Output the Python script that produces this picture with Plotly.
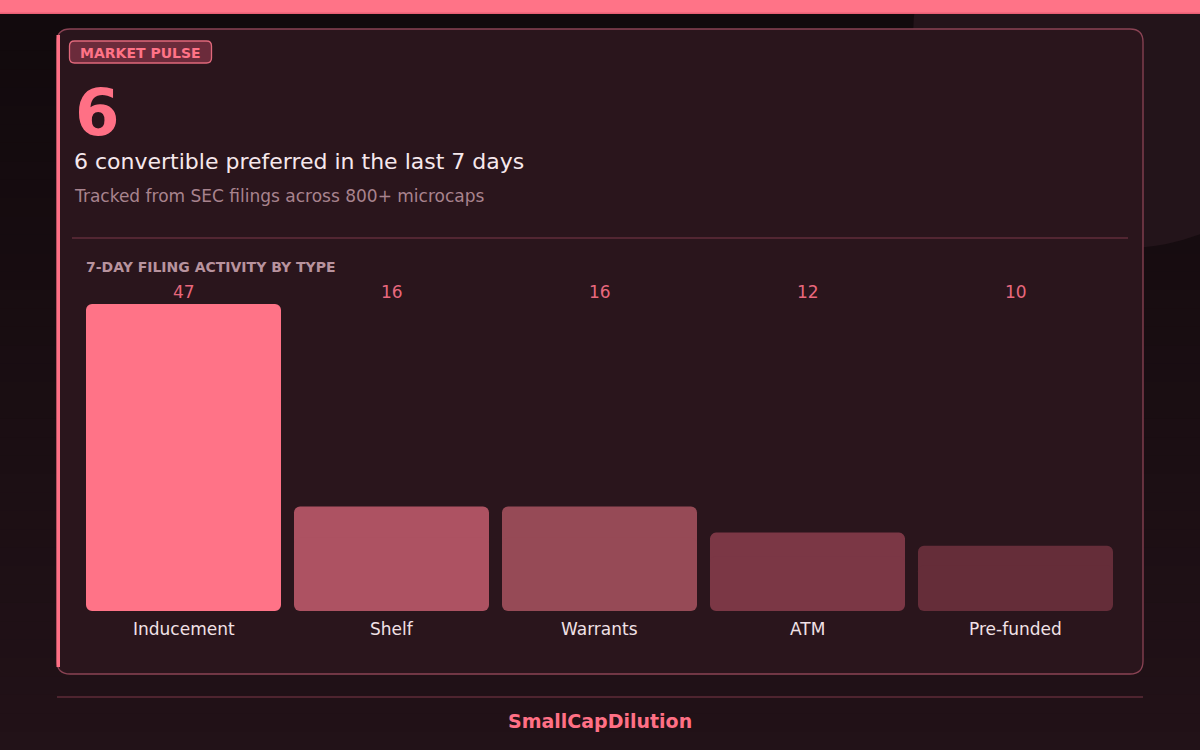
import numpy as np
import plotly.graph_objects as go

# 7-day filing activity by type
categories = ['Inducement', 'Shelf', 'Warrants', 'ATM', 'Pre-funded']
counts = [47, 16, 16, 12, 10]
bar_colors = ['#ff7387', '#ad5262', '#964a56', '#7b3745', '#652d39']

headline_count = 6
headline = '6 convertible preferred in the last 7 days'
subline = 'Tracked from SEC filings across 800+ microcaps'

W, H = 1200, 750
PINK = '#ff7085'
FONT = 'DejaVu Sans'

def py(px):
    # pixel from top -> paper y
    return 1 - px / H

def px_(x):
    return x / W

vals = np.array(counts, dtype=float)

fig = go.Figure()
# each bar drawn as two overlapping pieces so both ends get rounded corners
fig.add_trace(go.Bar(x=categories, y=vals * 0.7, base=vals * 0.3,
                     marker=dict(color=bar_colors, cornerradius=6, line=dict(width=0)),
                     hoverinfo='skip', showlegend=False))
fig.add_trace(go.Bar(x=categories, y=-vals * 0.7, base=vals * 0.7,
                     marker=dict(color=bar_colors, cornerradius=6, line=dict(width=0)),
                     hoverinfo='skip', showlegend=False))

shapes = []
# background vertical gradient
top_c = np.array([0x12, 0x0a, 0x0d])
bot_c = np.array([0x22, 0x12, 0x18])
n = 40
for i in range(n):
    t = i / (n - 1)
    c = (top_c + (bot_c - top_c) * t).astype(int)
    y0 = 14 + (H - 14) * i / n
    y1 = 14 + (H - 14) * (i + 1) / n + 1
    shapes.append(dict(type='rect', xref='paper', yref='paper', x0=0, x1=1,
                       y0=py(y1), y1=py(y0), line=dict(width=0),
                       fillcolor='rgb(%d,%d,%d)' % tuple(c), layer='below'))
# soft circle top right
shapes.append(dict(type='circle', xref='paper', yref='paper',
                   x0=px_(1125 - 212), x1=px_(1125 + 212),
                   y0=py(36 + 212), y1=py(36 - 212),
                   line=dict(width=0), fillcolor='#23141a', layer='below'))
# top accent bar
shapes.append(dict(type='rect', xref='paper', yref='paper', x0=0, x1=1,
                   y0=py(14), y1=1, line=dict(width=0), fillcolor='#e85f74', layer='below'))
shapes.append(dict(type='rect', xref='paper', yref='paper', x0=0, x1=1,
                   y0=py(12.5), y1=1, line=dict(width=0), fillcolor='#ff7387', layer='below'))

def rounded_rect(x0, y0, x1, y1, r):
    X = lambda v: px_(v)
    Y = lambda v: py(v)
    return ('M %f,%f L %f,%f Q %f,%f %f,%f L %f,%f Q %f,%f %f,%f '
            'L %f,%f Q %f,%f %f,%f L %f,%f Q %f,%f %f,%f Z') % (
        X(x0 + r), Y(y0), X(x1 - r), Y(y0), X(x1), Y(y0), X(x1), Y(y0 + r),
        X(x1), Y(y1 - r), X(x1), Y(y1), X(x1 - r), Y(y1),
        X(x0 + r), Y(y1), X(x0), Y(y1), X(x0), Y(y1 - r),
        X(x0), Y(y0 + r), X(x0), Y(y0), X(x0 + r), Y(y0))

# card
shapes.append(dict(type='path', xref='paper', yref='paper',
                   path=rounded_rect(57, 29, 1143, 674, 13),
                   fillcolor='#2a151c', line=dict(color='#8a4354', width=1.3), layer='below'))
# card left accent
shapes.append(dict(type='rect', xref='paper', yref='paper', x0=px_(56.5), x1=px_(60),
                   y0=py(667), y1=py(35), line=dict(width=0), fillcolor=PINK, layer='below'))
# chip
shapes.append(dict(type='path', xref='paper', yref='paper',
                   path=rounded_rect(69.5, 41, 211.5, 63, 5),
                   fillcolor='#6b2b3b', line=dict(color='#e0687b', width=1.3), layer='below'))
# divider in card
shapes.append(dict(type='line', xref='paper', yref='paper', x0=px_(72), x1=px_(1128),
                   y0=py(238), y1=py(238), line=dict(color='#602c3a', width=1.3), layer='below'))
# footer divider
shapes.append(dict(type='line', xref='paper', yref='paper', x0=px_(57), x1=px_(1143),
                   y0=py(697), y1=py(697), line=dict(color='#5e2b38', width=1.3), layer='below'))

ann = []
ann.append(dict(text='MARKET PULSE', x=px_(140.5), y=py(53), xref='paper', yref='paper',
                showarrow=False, xanchor='center', yanchor='middle',
                font=dict(family=FONT, size=14, color='#ff7387', weight='bold')))
ann.append(dict(text=str(headline_count), x=px_(73), y=py(113), xref='paper', yref='paper',
                showarrow=False, xanchor='left', yanchor='middle',
                font=dict(family=FONT, size=64, color=PINK, weight='bold')))
ann.append(dict(text=headline, x=px_(72), y=py(162), xref='paper', yref='paper',
                showarrow=False, xanchor='left', yanchor='middle',
                font=dict(family=FONT, size=22, color='#f6e8ec')))
ann.append(dict(text=subline, x=px_(72), y=py(196), xref='paper', yref='paper',
                showarrow=False, xanchor='left', yanchor='middle',
                font=dict(family=FONT, size=17, color='#a8838e')))
ann.append(dict(text='7-DAY FILING ACTIVITY BY TYPE', x=px_(84), y=py(267), xref='paper', yref='paper',
                showarrow=False, xanchor='left', yanchor='middle',
                font=dict(family=FONT, size=14, color='#b8939e', weight='bold')))
for c, v in zip(categories, counts):
    ann.append(dict(text=str(v), x=c, y=py(292), xref='x', yref='paper',
                    showarrow=False, xanchor='center', yanchor='middle',
                    font=dict(family=FONT, size=17, color='#e8687c')))
    ann.append(dict(text=c, x=c, y=py(629), xref='x', yref='paper',
                    showarrow=False, xanchor='center', yanchor='middle',
                    font=dict(family=FONT, size=17, color='#f1e1e6')))
ann.append(dict(text='SmallCapDilution', x=0.5, y=py(721), xref='paper', yref='paper',
                showarrow=False, xanchor='center', yanchor='middle',
                font=dict(family=FONT, size=19, color=PINK, weight='bold')))

fig.update_layout(
    width=W, height=H,
    margin=dict(l=0, r=0, t=0, b=0),
    paper_bgcolor='#1a0e12',
    plot_bgcolor='rgba(0,0,0,0)',
    barmode='overlay',
    bargap=13 / 208,
    shapes=shapes,
    annotations=ann,
    xaxis=dict(domain=[79.5 / W, 1119.5 / W], range=[-0.5, 4.5], showgrid=False,
               zeroline=False, showticklabels=False, showline=False, fixedrange=True),
    yaxis=dict(domain=[py(611), py(304)], range=[0, 47], showgrid=False,
               zeroline=False, showticklabels=False, showline=False, fixedrange=True),
    font=dict(family=FONT),
)

fig.write_html('out.html', config={'displayModeBar': False},
               post_script="document.body.style.margin='0';"
                           "document.body.style.background='#120a0d';"
                           "document.body.style.overflow='hidden';")
